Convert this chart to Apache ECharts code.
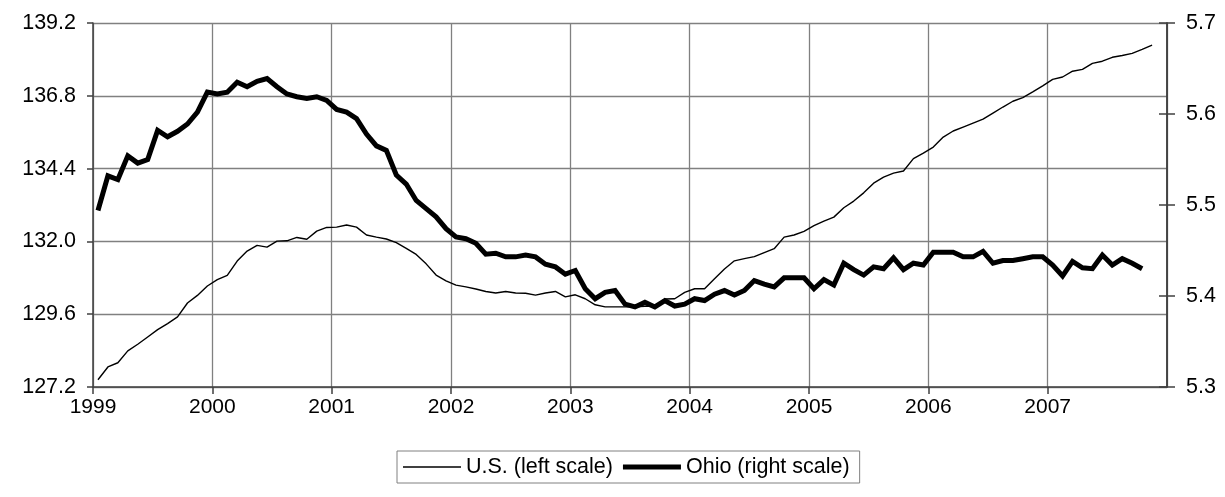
<!DOCTYPE html>
<html>
<head>
<meta charset="utf-8">
<script src="https://cdn.jsdelivr.net/npm/echarts@6/dist/echarts.min.js"></script>
<style>html,body{margin:0;padding:0;background:#fff;}#c{width:1225px;height:497px;}</style>
</head>
<body>
<div id="c"></div>
<script>
// Monthly series starting January 1999
const startYear = 1999;
const yearTicks = [1999, 2000, 2001, 2002, 2003, 2004, 2005, 2006, 2007];
const seriesNames = ['U.S. (left scale)', 'Ohio (right scale)'];

// U.S. (left scale), Jan 1999 - Nov 2007
const usValues = [
  127.44,127.86,128.00,128.39,128.61,128.85,129.09,129.29,129.51,129.97,130.22,130.53,
  130.74,130.88,131.35,131.68,131.87,131.81,132.01,132.02,132.13,132.07,132.34,132.46,
  132.47,132.54,132.47,132.21,132.14,132.08,131.96,131.77,131.57,131.26,130.89,130.70,
  130.56,130.50,130.43,130.35,130.30,130.35,130.30,130.29,130.23,130.30,130.35,130.17,
  130.24,130.11,129.91,129.84,129.84,129.84,129.84,129.86,129.86,130.10,130.11,130.32,
  130.44,130.44,130.77,131.09,131.36,131.43,131.50,131.63,131.76,132.14,132.21,132.33,
  132.52,132.67,132.80,133.11,133.33,133.60,133.92,134.12,134.25,134.32,134.73,134.91,
  135.11,135.44,135.64,135.77,135.90,136.03,136.23,136.43,136.62,136.74,136.93,137.13,
  137.34,137.42,137.61,137.67,137.87,137.94,138.07,138.13,138.20,138.33,138.47
];

// Ohio (right scale), Jan 1999 - Oct 2007
const ohioValues = [
  5.494,5.532,5.528,5.554,5.546,5.550,5.582,5.575,5.581,5.589,5.602,5.624,
  5.622,5.624,5.635,5.630,5.636,5.639,5.630,5.622,5.619,5.617,5.619,5.615,
  5.605,5.602,5.595,5.578,5.565,5.560,5.533,5.523,5.505,5.496,5.487,5.474,
  5.465,5.463,5.458,5.446,5.447,5.443,5.443,5.445,5.443,5.435,5.432,5.424,
  5.428,5.408,5.397,5.404,5.406,5.391,5.388,5.393,5.388,5.395,5.389,5.391,
  5.397,5.395,5.402,5.406,5.401,5.406,5.417,5.413,5.410,5.420,5.420,5.420,
  5.408,5.418,5.412,5.436,5.429,5.423,5.432,5.430,5.442,5.429,5.436,5.434,
  5.448,5.448,5.448,5.443,5.443,5.449,5.436,5.439,5.439,5.441,5.443,5.443,
  5.434,5.422,5.438,5.431,5.430,5.445,5.434,5.441,5.436,5.430
];

const leftTicks = {min: 127.2, max: 139.2, step: 2.4};
const rightTicks = {min: 5.3, max: 5.7, step: 0.1};

// month index -> mid-month position on the axis (months since Jan of startYear)
const toPoints = vals => vals.map((v, i) => [i + 0.5, v]);

const FONT = 'Liberation Sans, Arial, sans-serif';
const GRID = '#808080';
const AXIS = '#404040';
const monthsSpan = yearTicks.length * 12;

// legend line samples (bounding box 58x16, line centred)
const thinIcon = 'path://M0,0 M58,16 M0,7.3 L58,7.3 L58,8.7 L0,8.7 Z';
const thickIcon = 'path://M0,0 M58,16 M0,5.5 L58,5.5 L58,10.5 L0,10.5 Z';

const chart = echarts.init(document.getElementById('c'), null, {renderer: 'canvas'});
chart.setOption({
  animation: false,
  backgroundColor: '#fff',
  grid: {left: 93, right: 58, top: 23, bottom: 110, containLabel: false},
  legend: {
    left: 397, top: 451,
    data: [
      {name: seriesNames[0], icon: thinIcon},
      {name: seriesNames[1], icon: thickIcon}
    ],
    itemWidth: 58, itemHeight: 16, itemGap: 10,
    padding: [5, 10, 5, 6],
    borderColor: GRID, borderWidth: 1,
    itemStyle: {color: '#000'},
    textStyle: {fontFamily: FONT, fontSize: 21.5, color: '#000'}
  },
  xAxis: {
    type: 'value', min: 0, max: monthsSpan, interval: 12,
    axisLine: {show: true, lineStyle: {color: AXIS, width: 1.5}},
    axisTick: {show: true, length: 7, lineStyle: {color: AXIS, width: 1.5}},
    splitLine: {show: true, lineStyle: {color: GRID, width: 1.3}},
    axisLabel: {
      margin: 10, fontFamily: FONT, fontSize: 21, color: '#000',
      showMaxLabel: false,
      formatter: v => String(yearTicks[0] + v / 12)
    }
  },
  yAxis: [
    {
      type: 'value', position: 'left',
      min: leftTicks.min, max: leftTicks.max, interval: leftTicks.step,
      axisLine: {show: true, lineStyle: {color: AXIS, width: 1.5}},
      axisTick: {show: true, length: 6, lineStyle: {color: AXIS, width: 1.5}},
      splitLine: {show: true, lineStyle: {color: GRID, width: 1.3}},
      axisLabel: {margin: 17, fontFamily: FONT, fontSize: 21.5, color: '#000',
        formatter: v => v.toFixed(1)}
    },
    {
      type: 'value', position: 'right',
      min: rightTicks.min, max: rightTicks.max, interval: rightTicks.step,
      axisLine: {show: true, lineStyle: {color: AXIS, width: 1.5}},
      axisTick: {show: true, length: 8, lineStyle: {color: AXIS, width: 1.5}},
      splitLine: {show: false},
      axisLabel: {margin: 19, fontFamily: FONT, fontSize: 21.5, color: '#000',
        formatter: v => v.toFixed(1)}
    },
    {
      type: 'value', position: 'right',
      min: rightTicks.min, max: rightTicks.max, interval: rightTicks.step,
      axisLine: {show: true, lineStyle: {color: AXIS, width: 1.5}},
      axisTick: {show: true, inside: true, length: 8, lineStyle: {color: AXIS, width: 1.5}},
      splitLine: {show: false},
      axisLabel: {show: false}
    }
  ],
  series: [
    {
      name: seriesNames[0], type: 'line', yAxisIndex: 0,
      data: toPoints(usValues),
      symbol: 'none', showSymbol: false,
      lineStyle: {color: '#000', width: 1.4},
      itemStyle: {color: '#000'}
    },
    {
      name: seriesNames[1], type: 'line', yAxisIndex: 1,
      data: toPoints(ohioValues),
      symbol: 'none', showSymbol: false,
      lineStyle: {color: '#000', width: 5, join: 'miter'},
      itemStyle: {color: '#000'}
    }
  ]
});
</script>
</body>
</html>
